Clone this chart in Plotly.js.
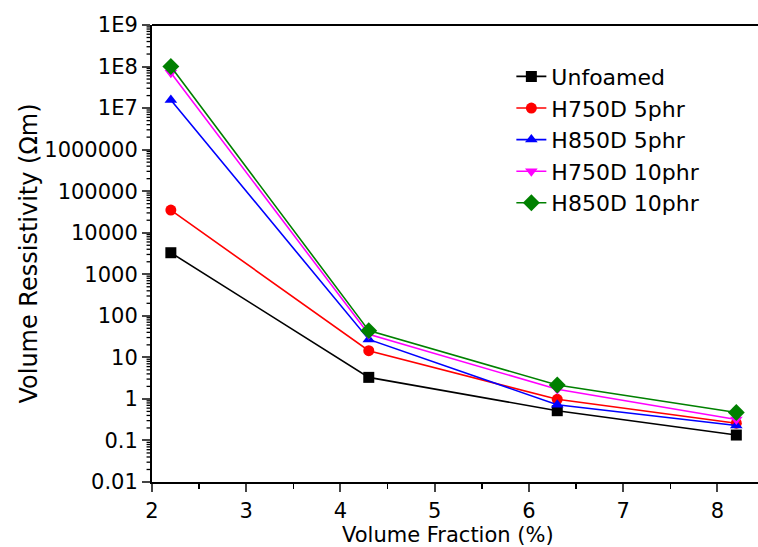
<!DOCTYPE html>
<html><head><meta charset="utf-8">
<script src="https://cdn.plot.ly/plotly-3.0.1.min.js"></script>
<style>html,body{margin:0;padding:0;background:#fff;overflow:hidden}</style>
</head><body>
<div id="chart" style="width:758px;height:547px"></div>
<script>
const volumeFraction = [2.2, 4.3, 6.3, 8.2];
const seriesNames = ["Unfoamed", "H750D 5phr", "H850D 5phr", "H750D 10phr", "H850D 10phr"];
const unfoamed = [3300, 3.3, 0.52, 0.135];
const h750d5 = [35000, 14.5, 0.98, 0.26];
const h850d5 = [15700000, 27, 0.72, 0.23];
const h750d10 = [71000000, 36, 1.7, 0.32];
const h850d10 = [100000000, 44, 2.17, 0.47];
const yTickVals = [1e9, 1e8, 1e7, 1e6, 1e5, 1e4, 1e3, 100, 10, 1, 0.1, 0.01];
const yTickText = ["1E9", "1E8", "1E7", "1000000", "100000", "10000", "1000", "100", "10", "1", "0.1", "0.01"];
const xTickVals = [2, 3, 4, 5, 6, 7, 8];

const colors = ["#000000", "#ff0000", "#0000ff", "#ff00ff", "#008000"];
const symbols = ["square", "circle", "triangle-up", "triangle-down", "diamond"];
const values = [unfoamed, h750d5, h850d5, h750d10, h850d10];

const traces = seriesNames.map((n, i) => ({
  x: volumeFraction, y: values[i], name: n, type: "scatter", mode: "lines+markers",
  line: {color: colors[i], width: 1.6},
  marker: {color: colors[i], symbol: symbols[i], size: i === 4 ? 13 : 11, line: {width: 0}}
}));

const yMin = -2, yMax = 9; // log10 axis range
// minor log tick marks (2..9 in each decade) as short strokes left of the y axis
const shapes = [{type: "line", xref: "paper", yref: "paper", x0: 0, x1: 1, y0: 1, y1: 1, line: {color: "#000", width: 2}}];
for (let e = yMin; e < yMax; e++) {
  for (let m = 2; m <= 9; m++) {
    const p = (Math.log10(m) + e - yMin) / (yMax - yMin);
    shapes.push({type: "line", layer: "above", xref: "paper", yref: "paper", x0: -0.009, x1: -0.001, y0: p, y1: p,
      line: {color: "#000", width: 1.3}});
  }
}

const font = {family: "DejaVu Sans, sans-serif", color: "#000"};
const layout = {
  width: 758, height: 547,
  margin: {l: 152, r: 0, t: 25, b: 65},
  paper_bgcolor: "#fff", plot_bgcolor: "#fff",
  showlegend: true,
  legend: {x: 0.593, y: 0.933, xanchor: "left", yanchor: "top",
    font: Object.assign({size: 22}, font), bgcolor: "rgba(0,0,0,0)", tracegroupgap: 0},
  xaxis: {range: [2, 8.43], tickvals: xTickVals, ticks: "outside", ticklen: 8, tickwidth: 2,
    showline: true, linewidth: 2, linecolor: "#000", mirror: false, showgrid: false, zeroline: false,
    tickfont: Object.assign({size: 21}, font), ticklabelstandoff: 1,
    minor: {dtick: 0.5, ticks: "outside", ticklen: 5, tickwidth: 1.5, tickcolor: "#000", showgrid: false}},
  yaxis: {type: "log", range: [yMin, yMax], tickvals: yTickVals, ticktext: yTickText, ticks: "outside",
    ticklen: 8, tickwidth: 2, showline: true, linewidth: 2, linecolor: "#000", showgrid: false, zeroline: false,
    tickfont: Object.assign({size: 21}, font),
    title: {text: "Volume Ressistivity (Ωm)", font: Object.assign({size: 24}, font), standoff: 0}},
  annotations: [{text: "Volume Fraction (%)", xref: "paper", yref: "paper", x: 0.488, y: -0.116,
    xanchor: "center", yanchor: "middle", showarrow: false, font: Object.assign({size: 21}, font)}],
  shapes: shapes
};
Plotly.newPlot("chart", traces, layout, {displayModeBar: false, staticPlot: true});
</script>
</body></html>
